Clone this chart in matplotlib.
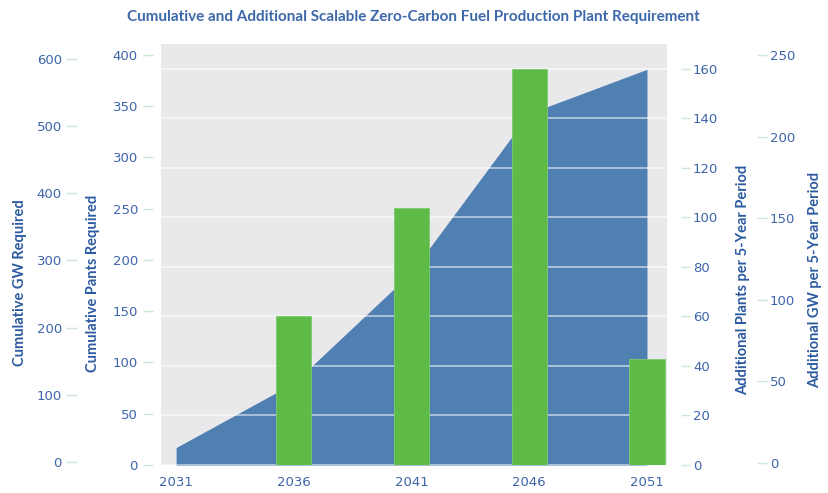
import matplotlib
matplotlib.use("Agg")
import matplotlib.pyplot as plt

# data
years = [2031, 2036, 2041, 2046, 2051]
cum_plants = [17, 80, 188, 343, 386]
bar_years = [2036, 2041, 2046, 2051]
add_plants = [60, 104, 160, 43]

plt.rcParams["font.family"] = ["Lato", "DejaVu Sans"]

tick_blue = "#3d65a9"
label_blue = "#2c5aa0"
tick_green = "#cfe6d3"
px = 72 / 100  # points per pixel
tick_font = 9.5

fig = plt.figure(figsize=(8.29, 4.93), dpi=100)
ax = fig.add_axes([161 / 829, 28 / 493, 506 / 829, 421 / 493])
ax.set_facecolor("#e9e9eb")

# cumulative plants (left inner axis)
ax.fill_between(years, 0, cum_plants, color="#5080b2", linewidth=0, zorder=1)
ax.set_xlim(2030.36, 2051.85)
ax.set_ylim(0, 410.7)
ax.set_yticks(range(0, 401, 50))
ax.set_xticks(years)
ax.tick_params(axis="x", length=0, pad=8, labelsize=tick_font, labelcolor=tick_blue)
ax.tick_params(axis="y", length=10 * px, width=1, color=tick_green, pad=5 * px,
               labelsize=tick_font, labelcolor=tick_blue)
for s in ax.spines.values():
    s.set_visible(False)
ax.spines["left"].set_position(("outward", 8 * px))

# additional plants (right inner axis)
ax2 = ax.twinx()
ax2.bar(bar_years, add_plants, width=1.5, color="#5fbb47", edgecolor="#7fcc6c",
        linewidth=0.6, zorder=3)
ax2.set_ylim(0, 170.1)
ax2.set_yticks(range(0, 161, 20))
ax2.set_axisbelow(True)
ax2.grid(axis="y", color="white", alpha=0.6, linewidth=1.2)
ax2.tick_params(axis="y", length=9 * px, width=1, color=tick_green, pad=3 * px,
                labelsize=tick_font, labelcolor=tick_blue)
for s in ax2.spines.values():
    s.set_visible(False)
ax2.spines["right"].set_position(("outward", 14 * px))

# cumulative GW (left outer axis)
ax3 = ax.twinx()
ax3.yaxis.tick_left()
ax3.set_ylim(-4.4, 622)
ax3.set_yticks(range(0, 601, 100))
ax3.tick_params(axis="y", length=11 * px, width=1, color=tick_green, pad=4 * px,
                labelsize=tick_font, labelcolor=tick_blue)
for s in ax3.spines.values():
    s.set_visible(False)
ax3.spines["left"].set_position(("outward", 84 * px))

# additional GW (right outer axis)
ax4 = ax.twinx()
ax4.set_ylim(-1.2, 256.7)
ax4.set_yticks(range(0, 251, 50))
ax4.tick_params(axis="y", length=10 * px, width=1, color=tick_green, pad=3 * px,
                labelsize=tick_font, labelcolor=tick_blue)
for s in ax4.spines.values():
    s.set_visible(False)
ax4.spines["right"].set_position(("outward", 90 * px))

for a in (ax, ax2, ax3, ax4):
    for t in a.get_xticklabels() + a.get_yticklabels():
        t.set_fontfamily("DejaVu Sans")

# axis titles
lab = dict(rotation=90, ha="center", va="center", fontsize=10.5,
           fontweight="bold", color=label_blue)
fig.text(20 / 829, 1 - 283 / 493, "Cumulative GW Required", **lab)
fig.text(93 / 829, 1 - 283 / 493, "Cumulative Pants Required", **lab)
fig.text(743 / 829, 1 - 280 / 493, "Additional Plants per 5-Year Period", **lab)
fig.text(815 / 829, 1 - 280 / 493, "Additional GW per 5-Year Period", **lab)

fig.text(413 / 829, 1 - 17 / 493,
         "Cumulative and Additional Scalable Zero-Carbon Fuel Production Plant Requirement",
         ha="center", va="center", fontsize=11, fontweight="bold", color="#3d68aa")

fig.savefig("out.png", dpi=100)
